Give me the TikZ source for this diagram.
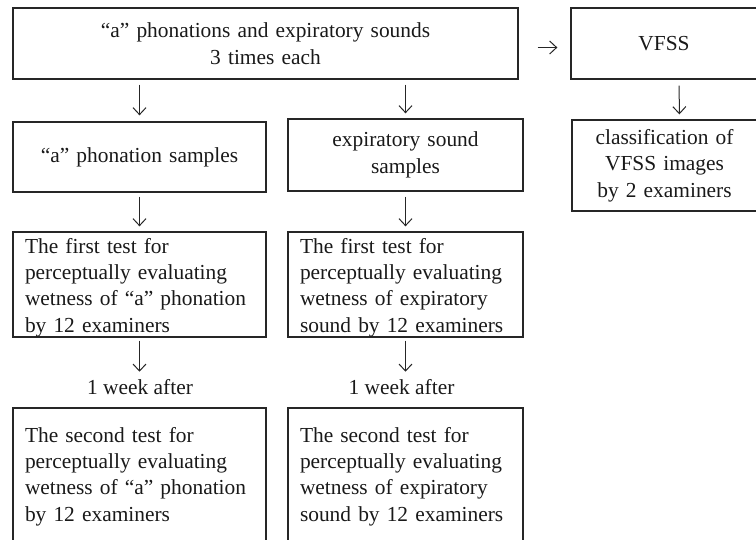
\documentclass[tikz,border=0pt]{standalone}
\usepackage{fontspec}
\setmainfont{Liberation Serif}
\usepackage{tikz}
\usetikzlibrary{arrows.meta}

\begin{document}
\begin{tikzpicture}[x=1pt, y=-1pt,
    every node/.style={font=\fontsize{21.4}{26.4}\selectfont, text=black!90},
    box/.style={draw=black!85, line width=1.3pt, inner xsep=12pt, inner ysep=0pt, align=center},
    lbox/.style={box, align=left},
    arr/.style={-{Straight Barb[length=7pt,width=13pt]}, line width=1pt, draw=black!85}]
    \useasboundingbox (0, 0) rectangle (756, 539);
    \clip (0, 0) rectangle (756, 539);
    % recordings
    \node [box, text width=481pt, minimum height=71pt] (0) at (265.5, 43.5) {``a'' phonations and expiratory sounds\\3 times each};
    % VFSS
    \node [box, text width=162pt, minimum height=71pt] (1) at (664, 43.5) {VFSS};
    \node [box, text width=161pt, minimum height=91pt] (2) at (664.5, 165.5) {classification of\\VFSS images\\by 2 examiners};
    % samples
    \node [box, text width=229pt, minimum height=70pt] (3) at (139.5, 157) {``a'' phonation samples};
    \node [box, text width=211pt, minimum height=72pt] (4) at (405.5, 155) {expiratory sound\\samples};
    % first test
    \node [lbox, text width=229pt, text height=21pt, text depth=84pt] (5) at (139.5, 284.5) {The first test for\\perceptually evaluating\\wetness of ``a'' phonation\\by 12 examiners};
    \node [lbox, text width=211pt, text height=21pt, text depth=84pt] (6) at (405.5, 284.5) {The first test for\\perceptually evaluating\\wetness of expiratory\\sound by 12 examiners};
    % interval
    \node [inner sep=0pt, anchor=base] (7) at (140, 394) {1 week after};
    \node [inner sep=0pt, anchor=base] (8) at (401.5, 394) {1 week after};
    % second test
    \node [lbox, text width=229pt, text height=34pt, text depth=104pt] (9) at (139.5, 477) {The second test for\\perceptually evaluating\\wetness of ``a'' phonation\\by 12 examiners};
    \node [lbox, text width=211pt, text height=34pt, text depth=104pt] (10) at (405.5, 477) {The second test for\\perceptually evaluating\\wetness of expiratory\\sound by 12 examiners};
    % arrows
    \draw [arr, shorten <=5pt, shorten >=6pt] (0.south -| 3.north) to (3.north);
    \draw [arr, shorten <=5pt, shorten >=5pt] (0.south -| 4.north) to (4.north);
    \draw [arr, shorten <=19pt, shorten >=13pt] ([yshift=-4pt]0.east) to ([yshift=-4pt]1.west);
    \draw [arr, shorten <=6pt, shorten >=5pt] ([xshift=15pt]1.south) to ([xshift=15pt]2.north);
    \draw [arr, shorten <=4pt, shorten >=5pt] (3.south) to (5.north);
    \draw [arr, shorten <=5pt, shorten >=5pt] (4.south) to (6.north);
    \draw [arr, shorten <=3pt, shorten >=7pt] (5.south) to (5.south |- 7.north);
    \draw [arr, shorten <=3pt, shorten >=7pt] (6.south) to (6.south |- 8.north);
\end{tikzpicture}
\end{document}
